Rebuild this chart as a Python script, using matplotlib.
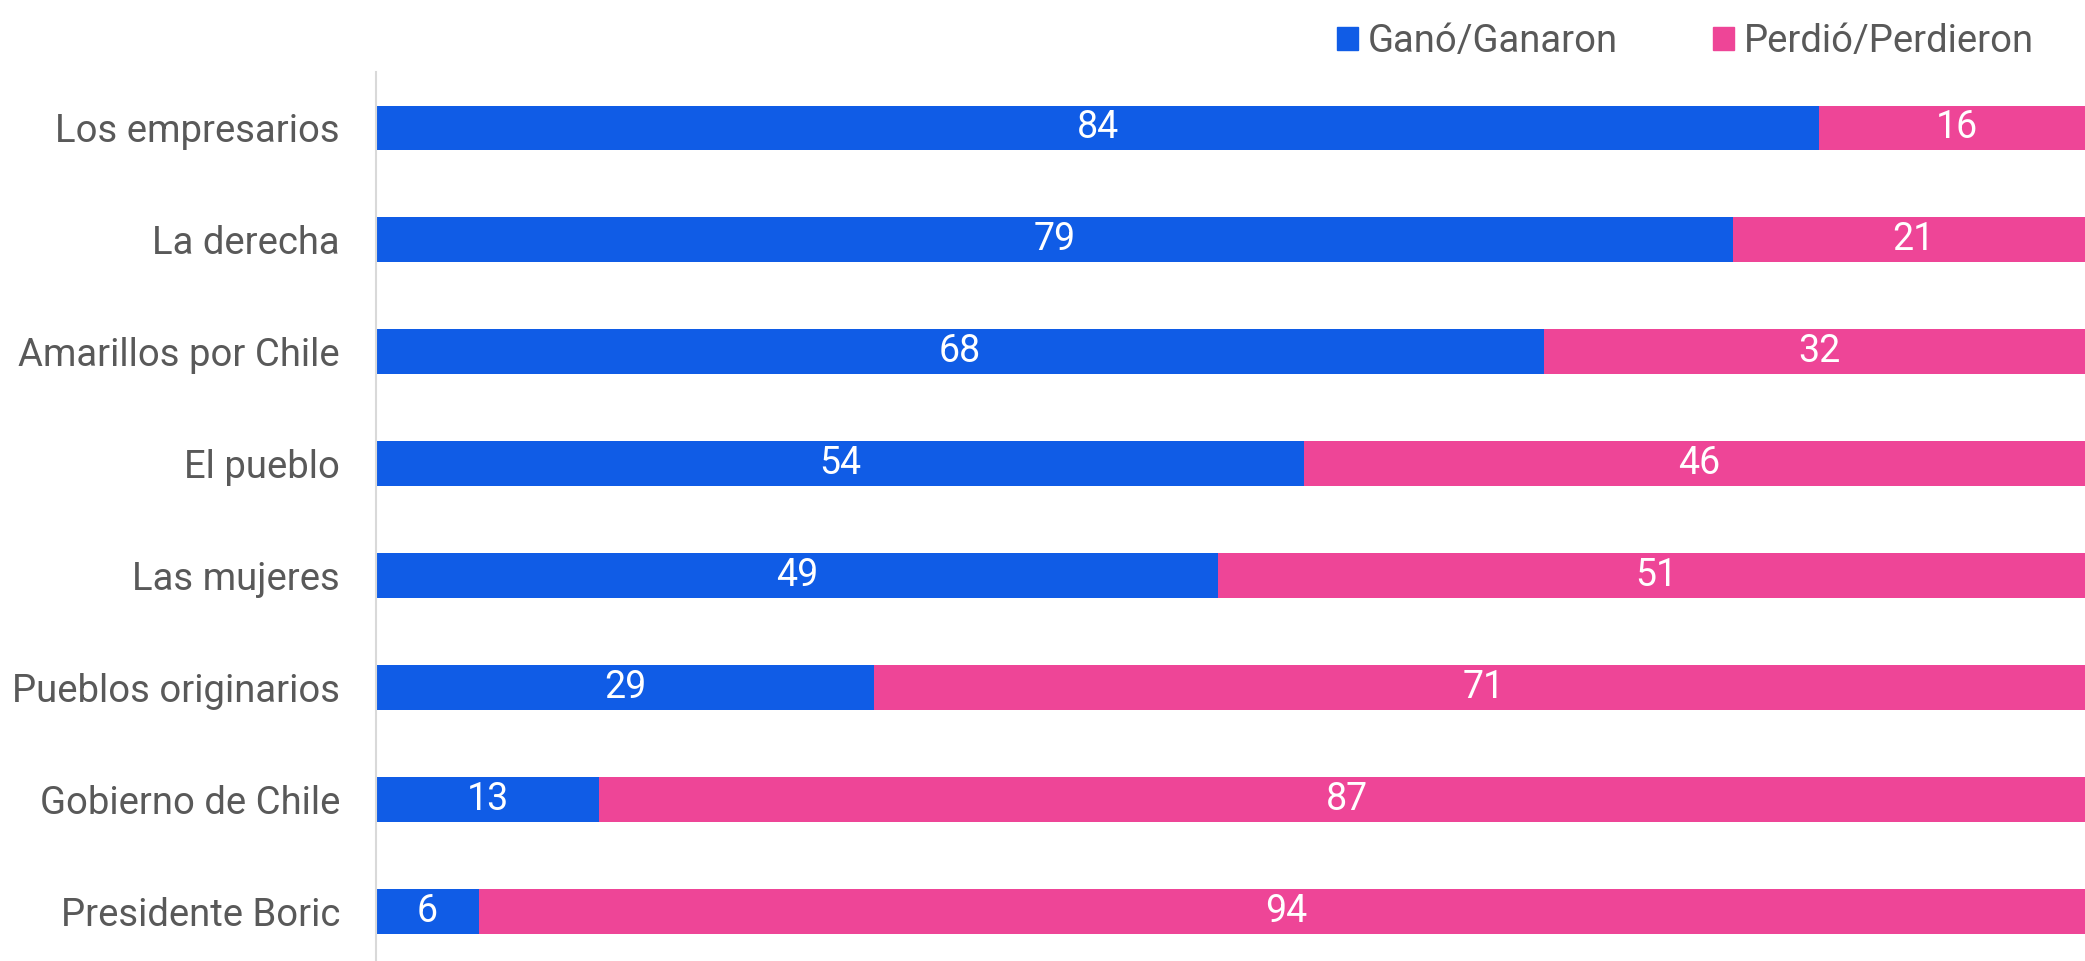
import matplotlib
matplotlib.use("Agg")
import matplotlib.pyplot as plt
from matplotlib.patches import Patch

categories = ["Los empresarios", "La derecha", "Amarillos por Chile", "El pueblo",
              "Las mujeres", "Pueblos originarios", "Gobierno de Chile", "Presidente Boric"]
gano = [84, 79, 68, 54, 49, 29, 13, 6]
perdio = [16, 21, 32, 46, 51, 71, 87, 94]
series_names = ["Ganó/Ganaron", "Perdió/Perdieron"]

BLUE = "#105CE6"
PINK = "#EE4597"
GREY = "#595959"

plt.rcParams["font.family"] = ["Roboto", "DejaVu Sans"]

W, H = 2085, 961
fig = plt.figure(figsize=(W / 100, H / 100), dpi=100)
ax = fig.add_axes([376 / W, 0, 1 - 376 / W, (H - 72) / H])

y = list(range(len(categories)))
ax.barh(y, gano, height=0.4, color=BLUE, label=series_names[0])
ax.barh(y, perdio, left=gano, height=0.4, color=PINK, label=series_names[1])

for i in y:
    ax.text(gano[i] / 2, i, str(gano[i]), ha="center", va="center",
            color="white", fontsize=27)
    ax.text(gano[i] + perdio[i] / 2, i, str(perdio[i]), ha="center", va="center",
            color="white", fontsize=27)

# the full 100% runs a little past the right edge of the picture
ax.set_xlim(0, 99.48)
ax.set_ylim(7.445, -0.5)
ax.set_yticks(y)
ax.set_yticklabels(categories, fontsize=27.5, color=GREY)
ax.tick_params(axis="y", length=0, pad=26)
ax.set_xticks([])
for s in ["top", "right", "bottom"]:
    ax.spines[s].set_visible(False)
ax.spines["left"].set_color("#d9d9d9")
ax.spines["left"].set_linewidth(1.5)

handles = [Patch(color=BLUE), Patch(color=PINK)]
fig.legend(handles, series_names, loc="upper right", bbox_to_anchor=(0.992, 1.012),
           ncol=2, frameon=False, fontsize=27.5, labelcolor=GREY,
           handlelength=0.55, handleheight=0.55, handletextpad=0.25, columnspacing=2.5)

fig.savefig("out.png", dpi=100)
